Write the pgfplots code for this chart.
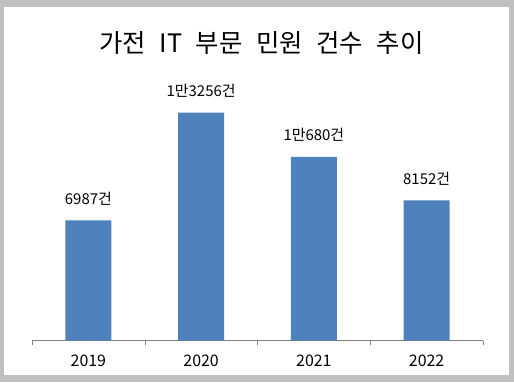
\documentclass[border=0pt]{standalone}
\usepackage{pgfplots}
\pgfplotsset{compat=1.18}
\usepackage{fontspec}
\setmainfont{Noto Sans CJK KR}
\definecolor{framegray}{RGB}{192,192,192}
\definecolor{barblue}{RGB}{79,129,189}
\pgfplotstableread{
x y label
0 6987 6987건
1 13256 1만3256건
2 10680 1만680건
3 8152 8152건
}\datatable
\begin{document}
\begin{tikzpicture}[x=1bp,y=1bp]
\fill[framegray] (0,0) rectangle (514,382);
\fill[white] (4,7) rectangle (509,375);
\useasboundingbox (0,0) rectangle (514,382);
\node[font=\fontsize{25.5}{30}\selectfont] at (261.5,339.5) {가전\hspace{13.5bp}IT\hspace{13.5bp}부문\hspace{13.5bp}민원\hspace{13.5bp}건수\hspace{13.5bp}추이};
\begin{axis}[
  at={(32bp,41.5bp)}, anchor=south west,
  scale only axis, width=451bp, height=250bp,
  xmin=-0.5, xmax=3.5, ymin=0, ymax=14547,
  hide y axis,
  axis x line*=bottom,
  x axis line style={-, draw=gray},
  xtick={0,1,2,3},
  xticklabels={2019,2020,2021,2022},
  major x tick style={draw=none},
  xticklabel style={font=\fontsize{16}{19}\selectfont, yshift=-11bp},
  extra x ticks={-0.5,0.5,1.5,2.5,3.5},
  extra x tick labels={},
  extra x tick style={major tick length=4bp, tick align=outside, major x tick style={draw=gray}},
  clip=false,
]
\addplot[ybar, fill=barblue, draw=none, bar width=46bp,
  nodes near coords, point meta=explicit symbolic,
  nodes near coords style={font=\fontsize{15}{18}\selectfont, anchor=center, yshift=22bp}]
  table[x=x, y=y, meta=label] {\datatable};
\end{axis}
\end{tikzpicture}
\end{document}
